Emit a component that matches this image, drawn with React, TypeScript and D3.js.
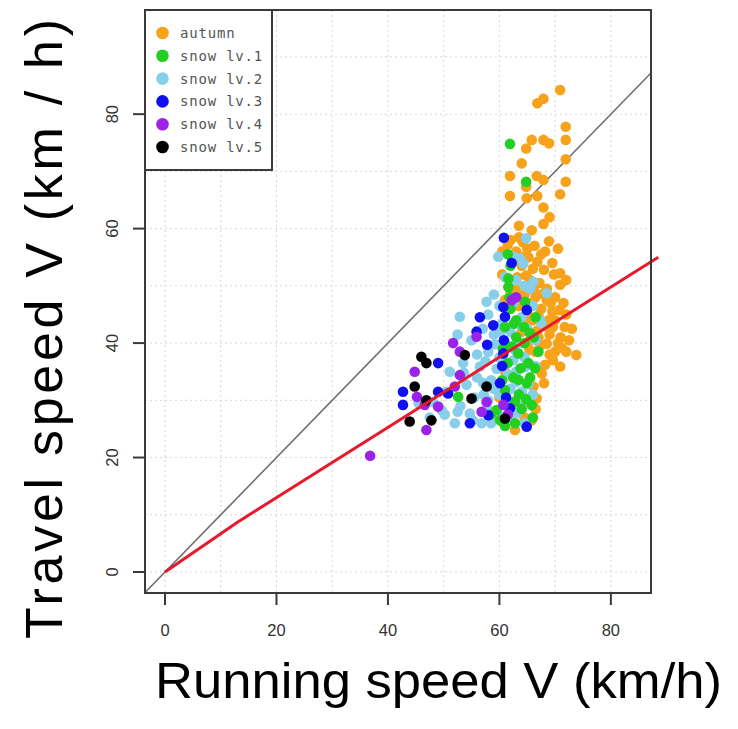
import React from "react";
import * as d3 from "d3";

const xTicks = [0, 20, 40, 60, 80];
const yTicks = [0, 20, 40, 60, 80];
const gridX = [0, 10, 20, 30, 40, 50, 60, 70, 80];
const gridY = [0, 10, 20, 30, 40, 50, 60, 70, 80, 90];

const seriesNames = ["autumn", "snow lv.1", "snow lv.2", "snow lv.3", "snow lv.4", "snow lv.5"];
const seriesColors = ["#F7A21B", "#22D022", "#87CEEB", "#1010F0", "#9B22E8", "#000000"];

const autumn: [number, number][] = [
  [70.9, 84.2], [67.9, 82.7], [66.8, 81.9], [71.9, 77.8], [71.9, 75.5], [65.8, 75.5], [67.9, 75.5], [68.9, 74.9],
  [64.8, 74.0], [64.0, 71.4], [71.9, 72.1], [61.9, 69.2], [66.7, 69.2], [64.8, 67.3], [67.9, 68.5], [71.9, 68.2],
  [61.9, 65.7], [64.9, 65.3], [66.8, 65.7], [70.9, 66.0], [67.9, 63.7], [67.9, 60.8], [65.8, 59.7],
  [61.5, 57.2], [64.2, 57.6], [66.3, 57.0], [68.9, 57.8], [70.5, 56.5], [63.0, 56.0], [67.5, 55.5], [65.2, 55.0],
  [62.5, 54.2], [64.0, 53.5], [66.0, 53.0], [68.0, 52.8], [70.9, 52.2], [69.5, 54.0], [63.2, 51.5], [65.5, 51.0],
  [67.2, 50.5], [70.9, 50.2], [72.0, 51.0], [60.5, 52.0], [62.0, 49.0], [64.5, 48.5], [66.5, 48.0], [68.5, 49.5],
  [70.0, 48.0], [71.5, 47.0], [63.5, 46.5], [65.0, 45.5], [67.5, 46.0], [69.5, 45.5], [72.0, 45.0], [61.0, 47.5],
  [66.0, 44.0], [68.0, 43.0], [70.0, 44.0], [71.7, 42.8], [73.0, 42.5], [67.0, 41.0], [69.0, 41.5], [65.5, 40.5],
  [70.5, 40.0], [72.5, 40.5], [64.0, 42.0], [68.5, 39.9], [66.5, 38.5], [69.6, 37.0], [70.0, 38.5], [73.8, 37.9],
  [70.9, 35.9], [67.0, 35.5], [67.6, 34.7], [65.0, 36.5], [72.0, 38.5], [66.1, 32.4], [66.7, 30.3], [65.0, 30.0],
  [66.5, 28.5], [64.5, 27.0], [62.8, 24.8], [65.8, 26.5], [68.0, 33.0], [60.0, 30.5], [61.0, 35.0], [63.5, 60.5],
  [69.0, 62.0], [60.5, 56.0], [68.5, 47.5], [63.0, 49.5],
  [63.5, 58.5], [65.0, 56.5], [66.8, 54.2], [68.2, 56.0], [69.8, 52.0], [64.8, 51.8], [66.2, 49.2], [67.8, 48.6],
  [63.8, 47.8], [65.8, 47.0], [69.2, 47.0], [70.8, 45.8], [64.8, 44.2], [67.0, 44.8], [68.8, 44.0], [66.8, 42.2],
  [69.6, 42.8], [71.0, 41.0], [67.4, 39.6], [65.4, 38.8], [69.0, 38.0], [68.2, 36.2], [71.2, 39.2], [64.0, 55.0],
  [62.0, 58.0],
];

const snow1: [number, number][] = [
  [61.9, 74.8], [64.8, 68.2], [61.6, 51.3], [61.6, 49.8], [64.6, 47.2], [61.0, 42.8], [65.5, 41.7], [62.2, 39.4],
  [63.4, 38.2], [65.2, 36.5], [66.4, 35.6], [64.9, 33.0], [61.0, 31.8], [52.6, 30.6], [65.8, 29.2], [59.5, 28.3],
  [60.1, 26.5], [62.0, 46.0], [63.0, 44.0], [61.5, 36.5], [62.5, 34.0], [63.5, 31.0], [64.0, 28.5], [66.0, 27.0],
  [62.8, 26.0], [67.0, 38.5], [66.5, 44.5], [63.0, 41.0], [64.5, 40.0], [62.0, 53.5], [61.5, 55.5], [58.5, 27.5],
  [61.0, 25.5], [65.5, 34.0], [60.5, 33.5],
  [63.8, 35.6], [64.4, 42.8], [62.6, 43.4], [60.6, 39.0], [62.8, 29.8], [64.8, 30.2], [63.4, 33.6], [66.2, 41.0],
  [61.8, 48.0],
];

const snow2: [number, number][] = [
  [64.8, 58.3], [59.8, 55.1], [63.7, 54.8], [57.7, 47.2], [52.9, 44.6], [51.1, 35.0], [56.5, 35.9], [57.1, 33.0],
  [54.1, 32.7], [49.6, 28.3], [52.0, 26.0], [54.7, 27.7], [56.8, 26.0], [48.1, 29.7], [59.0, 48.5], [62.5, 47.0],
  [66.0, 46.5], [64.0, 44.5], [60.5, 43.5], [62.0, 42.0], [65.0, 42.5], [59.0, 41.5], [61.0, 40.0], [63.5, 40.0],
  [66.5, 40.5], [58.0, 38.5], [60.0, 37.5], [62.5, 37.0], [64.5, 37.5], [59.5, 35.5], [61.5, 34.5], [63.0, 35.0],
  [58.5, 33.5], [62.0, 32.0], [64.0, 31.5], [60.0, 31.0], [66.0, 31.0], [58.0, 30.0], [61.0, 29.5], [63.5, 29.0],
  [59.5, 28.0], [62.0, 27.0], [64.5, 26.0], [58.5, 26.0], [55.5, 30.5], [56.0, 38.0], [53.5, 36.5], [52.5, 41.5],
  [55.0, 40.5], [57.0, 42.5], [45.5, 29.5], [47.5, 27.0], [50.5, 31.5], [53.0, 29.0], [66.5, 36.0], [67.5, 43.5],
  [65.5, 49.5], [61.0, 51.5], [62.5, 55.1], [64.3, 53.9], [66.1, 50.7], [68.5, 48.7], [67.3, 44.0],
  [57.5, 36.8], [59.2, 39.8], [60.2, 42.0], [63.6, 43.2], [62.8, 38.8], [64.6, 35.8], [60.8, 36.2], [59.0, 32.0],
  [63.0, 33.2], [57.2, 31.0], [56.0, 34.0], [65.2, 32.8], [60.5, 27.0], [63.2, 27.8], [57.8, 28.6], [55.2, 26.5],
  [52.5, 28.0], [50.2, 27.5], [53.6, 34.8], [58.0, 45.0], [60.0, 46.5], [63.0, 51.0], [64.5, 50.0],
];

const snow3: [number, number][] = [
  [60.8, 58.4], [62.2, 54.0], [60.7, 46.3], [61.0, 44.6], [58.9, 43.1], [55.9, 42.0], [57.8, 39.7], [49.0, 36.5],
  [60.7, 38.2], [60.1, 33.0], [42.7, 31.5], [42.7, 29.2], [49.0, 31.5], [50.8, 31.2], [54.7, 26.0], [58.0, 27.4],
  [61.9, 28.6], [64.9, 25.4], [64.9, 45.8], [60.5, 36.0], [60.8, 40.5], [61.2, 30.5], [56.5, 44.5],
];

const snow4: [number, number][] = [
  [62.2, 47.5], [55.9, 41.1], [51.7, 40.0], [52.9, 38.5], [44.8, 35.0], [52.9, 34.4], [52.0, 32.4], [45.2, 30.6],
  [46.6, 29.2], [49.0, 28.9], [57.7, 29.7], [56.8, 28.0], [60.7, 29.2], [46.9, 24.8], [36.8, 20.3], [61.5, 27.5],
  [63.0, 48.0],
];

const snow5: [number, number][] = [
  [46.0, 37.6], [46.9, 36.5], [53.8, 37.9], [44.8, 32.4], [46.9, 30.0], [55.0, 30.3], [57.7, 32.4], [43.9, 26.3],
  [47.8, 26.5], [61.0, 26.8],
];

const allSeries = [autumn, snow1, snow2, snow3, snow4, snow5];
// drawing order (light blue under green so green stays visible)
const drawOrder = [0, 2, 1, 3, 4, 5];

// fitted red line (drawn through these points)
const redLine: [number, number][] = [[0, 0], [13, 8.7], [88.5, 55.0]];

export default function App() {
  const left = 145, right = 651, top = 10, bottom = 593;
  const x = d3.scaleLinear().domain([-3.59, 87.2]).range([left, right]);
  const y = d3.scaleLinear().domain([-3.67, 98.2]).range([bottom, top]);
  const line = d3.line<[number, number]>().x((d) => x(d[0])).y((d) => y(d[1]));
  const xd = x.domain();

  return (
    <svg width={738} height={729} style={{ position: "absolute", left: 0, top: 0, background: "#fff" }}>
      <defs>
        <clipPath id="plotclip">
          <rect x={left} y={top} width={right - left} height={bottom - top} />
        </clipPath>
      </defs>
      <rect x={0} y={0} width={738} height={729} fill="#fff" />
      {/* grid */}
      <g stroke="#d6d6d6" strokeWidth={1} strokeDasharray="2,3">
        {gridX.map((v) => (
          <line key={"gx" + v} x1={x(v)} x2={x(v)} y1={top} y2={bottom} />
        ))}
        {gridY.map((v) => (
          <line key={"gy" + v} x1={left} x2={right} y1={y(v)} y2={y(v)} />
        ))}
      </g>
      {/* identity line */}
      <g clipPath="url(#plotclip)">
        <path d={line([[xd[0], xd[0]], [xd[1], xd[1]]]) || ""} stroke="#6e6e6e" strokeWidth={1.6} fill="none" />
      </g>
      {/* points */}
      {drawOrder.map((i) => (
        <g key={"s" + i} fill={seriesColors[i]}>
          {allSeries[i].map((d, j) => (
            <circle key={j} cx={x(d[0])} cy={y(d[1])} r={5.3} />
          ))}
        </g>
      ))}
      {/* red line */}
      <path d={line(redLine) || ""} stroke="#E8192C" strokeWidth={3} fill="none" />
      {/* frame */}
      <rect x={left} y={top} width={right - left} height={bottom - top} fill="none" stroke="#3a3a3a" strokeWidth={2} />
      {/* legend */}
      <rect x={left} y={top} width={127} height={160} fill="#fff" stroke="#3a3a3a" strokeWidth={2} />
      {seriesNames.map((n, i) => (
        <g key={n}>
          <circle cx={162.5} cy={33 + i * 22.8} r={6.3} fill={seriesColors[i]} />
          <text x={180} y={33 + i * 22.8 + 5} fontFamily="DejaVu Sans Mono" fontSize={14} letterSpacing={0.8} fill="#555">
            {n}
          </text>
        </g>
      ))}
      {/* axes ticks */}
      <g stroke="#3a3a3a" strokeWidth={2}>
        {xTicks.map((v) => (
          <line key={"xt" + v} x1={x(v)} x2={x(v)} y1={bottom} y2={bottom + 12} />
        ))}
        {yTicks.map((v) => (
          <line key={"yt" + v} x1={left - 12} x2={left} y1={y(v)} y2={y(v)} />
        ))}
      </g>
      {xTicks.map((v) => (
        <text key={"xl" + v} x={x(v)} y={636} textAnchor="middle" fontFamily="Liberation Sans" fontSize={16.5} fill="#333">
          {v}
        </text>
      ))}
      {yTicks.map((v) => (
        <text
          key={"yl" + v}
          transform={`translate(118,${y(v)}) rotate(-90)`}
          textAnchor="middle"
          fontFamily="Liberation Sans"
          fontSize={16.5}
          fill="#333"
        >
          {v}
        </text>
      ))}
      {/* titles */}
      <text
        x={438.5}
        y={698}
        textAnchor="middle"
        fontFamily="Liberation Sans"
        fontSize={50}
        textLength={567}
        lengthAdjust="spacingAndGlyphs"
        fill="#000"
      >
        Running speed V (km/h)
      </text>
      <text
        transform="translate(62,329) rotate(-90)"
        textAnchor="middle"
        fontFamily="Liberation Sans"
        fontSize={52}
        textLength={620}
        lengthAdjust="spacing"
        fill="#000"
      >
        Travel speed V (km / h)
      </text>
    </svg>
  );
}
